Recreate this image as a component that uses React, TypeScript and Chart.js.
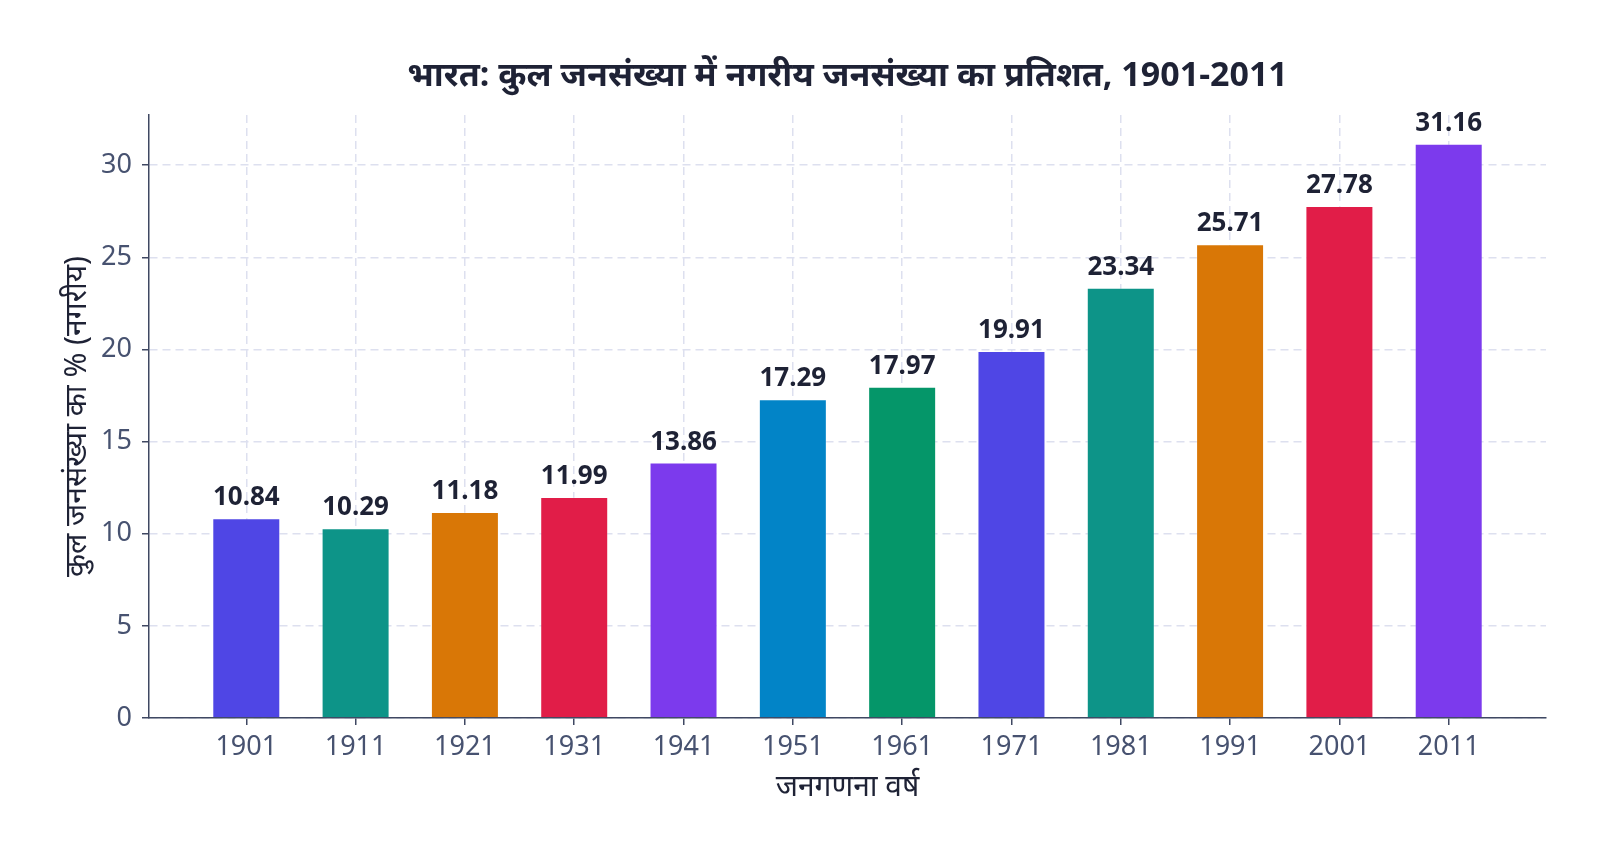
import React, { useEffect, useRef } from "react";
import { Chart, registerables } from "chart.js";

Chart.register(...registerables);

const TITLE = "भारत: कुल जनसंख्या में नगरीय जनसंख्या का प्रतिशत, 1901-2011";
const X_TITLE = "जनगणना वर्ष";
const Y_TITLE = "कुल जनसंख्या का % (नगरीय)";

const years = ["1901", "1911", "1921", "1931", "1941", "1951", "1961", "1971", "1981", "1991", "2001", "2011"];
const urbanPct = [10.84, 10.29, 11.18, 11.99, 13.86, 17.29, 17.97, 19.91, 23.34, 25.71, 27.78, 31.16];
const barColors = [
  "#4f46e5", "#0d9488", "#d97706", "#e11d48", "#7c3aed", "#0284c7",
  "#059669", "#4f46e5", "#0d9488", "#d97706", "#e11d48", "#7c3aed",
];
const yTicks = [0, 5, 10, 15, 20, 25, 30];

const FONT = "'Noto Sans', 'Noto Sans Devanagari', sans-serif";
const DARK = "#1e2235";
const SLATE = "#475270";
const AXIS = "#3f4862";
const GRID = "#dde0ef";

const overlayPlugin = {
  id: "overlay",
  afterDatasetsDraw(chart: any) {
    const { ctx, chartArea } = chart;
    const meta = chart.getDatasetMeta(0);
    ctx.save();
    ctx.fillStyle = DARK;
    ctx.textAlign = "center";
    ctx.textBaseline = "alphabetic";
    ctx.font = `bold 26px ${FONT}`;
    meta.data.forEach((bar: any, i: number) => {
      ctx.fillText(urbanPct[i].toFixed(2), bar.x, bar.y - 13);
    });
    ctx.font = `bold 34px ${FONT}`;
    ctx.fillText(TITLE, (chartArea.left + chartArea.right) / 2, 86);
    ctx.restore();
  },
};

export default function App() {
  const ref = useRef<HTMLCanvasElement | null>(null);

  useEffect(() => {
    if (!ref.current) return;
    const chart = new Chart(ref.current, {
      type: "bar",
      data: {
        datasets: [
          {
            data: urbanPct.map((v, i) => ({ x: i, y: v })),
            backgroundColor: barColors,
            borderColor: "rgba(255,255,255,0.25)",
            borderWidth: 1,
            barPercentage: 0.622,
            categoryPercentage: 1,
          },
        ],
      },
      options: {
        animation: false,
        responsive: true,
        maintainAspectRatio: false,
        layout: { padding: { top: 115, right: 54, bottom: 0, left: 0 } },
        plugins: {
          legend: { display: false },
          tooltip: { enabled: false },
          title: { display: false },
        },
        scales: {
          x: {
            type: "linear",
            offset: false,
            min: -0.89,
            max: 11.89,
            afterBuildTicks: (scale: any) => {
              scale.ticks = years.map((_, i) => ({ value: i }));
            },
            afterFit: (scale: any) => {
              scale.height = 135;
            },
            ticks: {
              callback: (v: any) => years[v] ?? "",
              color: SLATE,
              font: { family: FONT, size: 27 },
              padding: 6,
              maxRotation: 0,
              autoSkip: false,
            },
            grid: {
              offset: false,
              color: GRID,
              lineWidth: 1.5,
              tickLength: 7,
              tickColor: AXIS,
              tickWidth: 1.5,
              tickBorderDash: [],
            },
            border: { display: true, color: AXIS, width: 1.5, dash: [8, 5] },
            title: {
              display: true,
              text: X_TITLE,
              color: DARK,
              font: { family: FONT, size: 30 },
              padding: { top: 0, bottom: 48 },
            },
          },
          y: {
            min: 0,
            max: 32.72,
            afterBuildTicks: (scale: any) => {
              scale.ticks = yTicks.map((v) => ({ value: v }));
            },
            afterFit: (scale: any) => {
              scale.width = 149;
            },
            ticks: {
              color: SLATE,
              font: { family: FONT, size: 27 },
              padding: 10,
            },
            grid: {
              color: GRID,
              lineWidth: 1.5,
              tickLength: 7,
              tickColor: AXIS,
              tickWidth: 1.5,
              tickBorderDash: [],
            },
            border: { display: true, color: AXIS, width: 1.5, dash: [8, 5] },
            title: {
              display: true,
              text: Y_TITLE,
              color: DARK,
              font: { family: FONT, size: 30 },
              padding: { top: 59, bottom: 0 },
            },
          },
        },
      },
      plugins: [overlayPlugin],
    });
    return () => chart.destroy();
  }, []);

  return (
    <div style={{ position: "absolute", left: 0, top: 0, width: 1600, height: 853, background: "#fff" }}>
      <canvas ref={ref} />
    </div>
  );
}
